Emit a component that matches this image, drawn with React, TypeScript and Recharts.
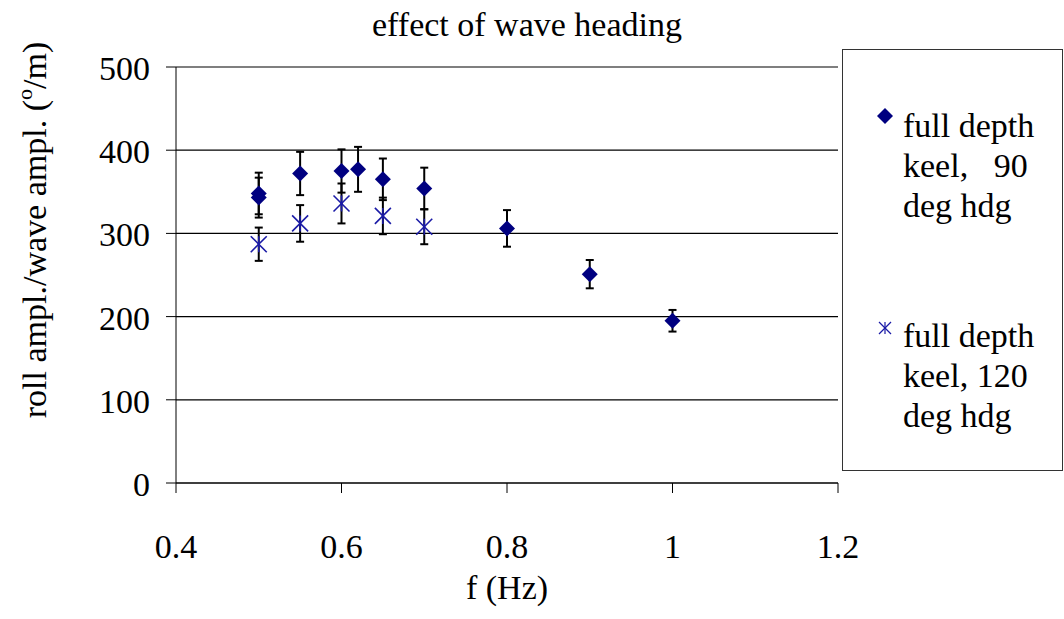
import React from 'react';
import { CartesianGrid, ErrorBar, Scatter, ScatterChart, XAxis, YAxis } from 'recharts';

// full depth keel, 90 deg heading
const freq90 = [0.5, 0.5, 0.55, 0.6, 0.62, 0.65, 0.7, 0.8, 0.9, 1.0];
const ratio90 = [348, 343, 372, 375, 377, 365, 354, 306, 251, 195];
const err90 = [25, 24, 26, 26, 27, 25, 25, 22, 17, 13];

// full depth keel, 120 deg heading
const freq120 = [0.5, 0.55, 0.6, 0.65, 0.7];
const ratio120 = [287, 312, 336, 321, 308];
const err120 = [20, 22, 24, 22, 21];

const xTicks = [0.4, 0.6, 0.8, 1, 1.2];
const yTicks = [0, 100, 200, 300, 400, 500];

const data90 = freq90.map((f, i) => ({ f, r: ratio90[i], e: err90[i] }));
const data120 = freq120.map((f, i) => ({ f, r: ratio120[i], e: err120[i] }));

const FONT = 'Liberation Serif, Times New Roman, serif';
const txt = { fontFamily: FONT, fontSize: 34 };
const NAVY = '#000080';
const BLUE = '#1a1aa6';

const Diamond = (props: any) => {
  const { cx, cy } = props;
  const s = 8;
  return (
    <polygon
      points={`${cx},${cy - s} ${cx + s},${cy} ${cx},${cy + s} ${cx - s},${cy}`}
      fill={NAVY}
    />
  );
};

const Star = (props: any) => {
  const { cx, cy } = props;
  const s = 8;
  return (
    <g stroke={BLUE} strokeWidth={1.6}>
      <line x1={cx - s} y1={cy - s} x2={cx + s} y2={cy + s} />
      <line x1={cx - s} y1={cy + s} x2={cx + s} y2={cy - s} />
      <line x1={cx} y1={cy - s} x2={cx} y2={cy + s} />
    </g>
  );
};

const XTick = ({ x, y, payload }: any) => (
  <text x={x} y={y + 65} textAnchor="middle" fill="#000" style={txt}>
    {String(payload.value)}
  </text>
);

const YTick = ({ x, y, payload }: any) => (
  <text x={x} y={y + 13} textAnchor="end" fill="#000" style={txt}>
    {payload.value}
  </text>
);

export default function App() {
  return (
    <div
      style={{
        position: 'absolute',
        left: 0,
        top: 0,
        width: 1064,
        height: 619,
        background: '#fff',
        fontFamily: FONT,
      }}
    >
      <ScatterChart
        width={1064}
        height={619}
        margin={{ top: 67, right: 226, bottom: 76, left: 116 }}
      >
        <CartesianGrid vertical={false} stroke="#000" strokeWidth={1.2} />
        <XAxis
          type="number"
          dataKey="f"
          domain={[0.4, 1.2]}
          ticks={xTicks}
          height={60}
          tickSize={10}
          tickMargin={0}
          stroke="#000"
          tick={<XTick />}
          allowDataOverflow
        />
        <YAxis
          type="number"
          dataKey="r"
          domain={[0, 500]}
          ticks={yTicks}
          width={60}
          tickSize={10}
          tickMargin={16}
          stroke="#000"
          tick={<YTick />}
        />
        <Scatter data={data90} shape={<Diamond />} isAnimationActive={false}>
          <ErrorBar dataKey="e" direction="y" width={4} stroke="#000" strokeWidth={2} />
        </Scatter>
        <Scatter data={data120} shape={<Star />} isAnimationActive={false}>
          <ErrorBar dataKey="e" direction="y" width={4} stroke="#000" strokeWidth={2} />
        </Scatter>
      </ScatterChart>

      <svg
        width={1064}
        height={619}
        style={{ position: 'absolute', left: 0, top: 0, pointerEvents: 'none', ...txt }}
        fill="#000"
      >
        <text x={527} y={36} textAnchor="middle" style={txt}>effect of wave heading</text>
        <text x={507} y={599} textAnchor="middle" style={txt}>f (Hz)</text>
        <text transform="translate(46, 230) rotate(-90)" textAnchor="middle" style={txt}>
          roll ampl./wave ampl. (<tspan fontSize={22} dy={-14}>o</tspan>
          <tspan dy={14}>/m)</tspan>
        </text>

        {/* legend */}
        <rect x={842.5} y={49.5} width={220} height={421} fill="#fff" stroke="#333" strokeWidth={1} />
        <Diamond cx={885} cy={116} />
        <text x={903} y={137} style={txt}>full depth</text>
        <text x={903} y={177} style={{ ...txt, whiteSpace: 'pre' }}>keel,   90</text>
        <text x={903} y={217} style={txt}>deg hdg</text>
        <g transform="translate(885, 328) scale(0.75)">
          <Star cx={0} cy={0} />
        </g>
        <text x={903} y={347} style={txt}>full depth</text>
        <text x={903} y={387} style={txt}>keel, 120</text>
        <text x={903} y={427} style={txt}>deg hdg</text>
      </svg>
    </div>
  );
}
